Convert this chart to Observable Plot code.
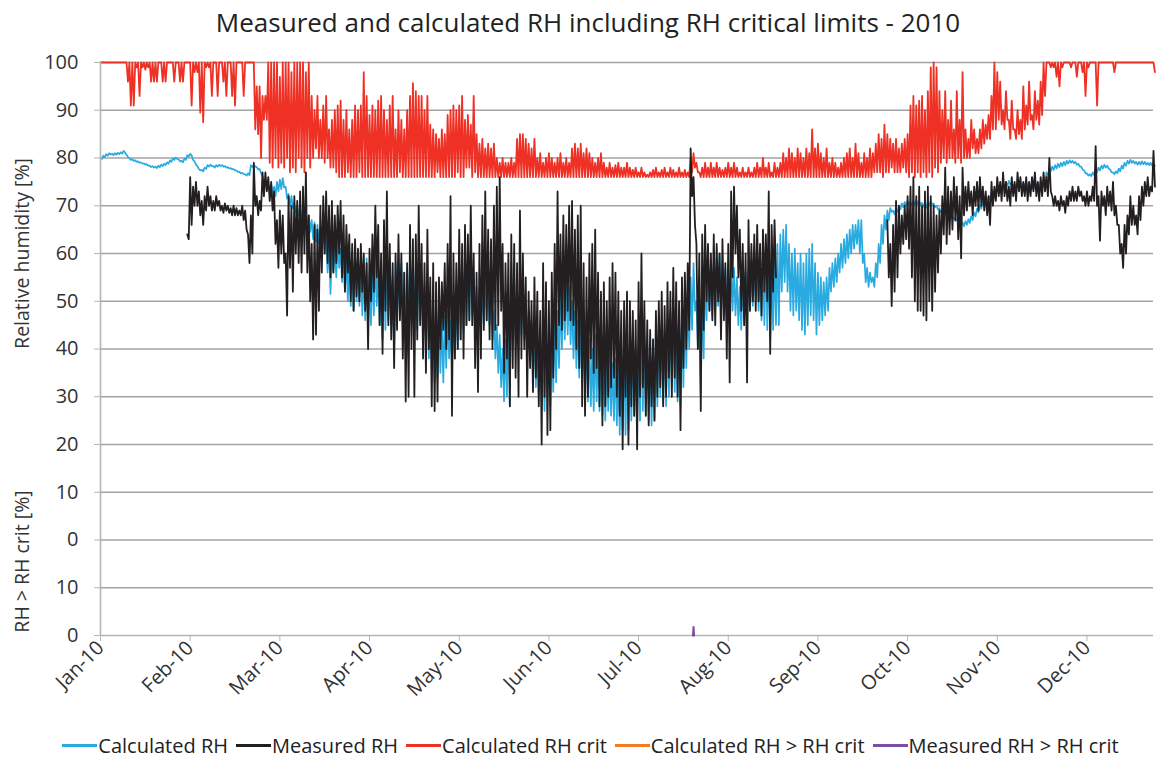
<!DOCTYPE html>
<html>
<head>
<meta charset="utf-8">
<script src="https://cdn.jsdelivr.net/npm/d3@7"></script>
<script src="https://cdn.jsdelivr.net/npm/@observablehq/plot@0.6"></script>
<style>
  html, body { margin: 0; padding: 0; background: #fff; }
  #page { width: 1159px; height: 761px; overflow: hidden; font-family: "Open Sans", sans-serif; color: #222; }
  #title { height: 42px; line-height: 44px; text-align: center; font-size: 26px; padding-left: 17px; box-sizing: border-box; white-space: nowrap; }
  #legend { height: 39px; padding-top: 4px; padding-left: 22px; display: flex; justify-content: center; align-items: center; font-size: 20px; white-space: nowrap; }
  .item { display: flex; align-items: center; margin: 0 4px; }
  .sw { display: inline-block; width: 35px; height: 3px; margin-right: 1px; }
</style>
</head>
<body>
<div id="page">
  <div id="title">Measured and calculated RH including RH critical limits - 2010</div>
  <div id="chart"></div>
  <div id="legend"></div>
</div>
<script>
// ---- Axis ticks (day of year 2010, 0 = 1 Jan) ----
const tickDays = [0, 31, 62, 93, 124, 155, 186, 217, 248, 279, 310, 341];
const monthLabels = ["Jan-10","Feb-10","Mar-10","Apr-10","May-10","Jun-10","Jul-10","Aug-10","Sep-10","Oct-10","Nov-10","Dec-10"];
const yTicks = [100, 90, 80, 70, 60, 50, 40, 30, 20, 10, 0, -10, -20];
const yTickLabels = ["100","90","80","70","60","50","40","30","20","10","0","10","0"];

// ---- Series: daily high / low readings (day 0..364) ----
const calcHi = [
 80.1,80.5,80.8,81.0,80.9,81.0,81.1,81.2,81.5,80.7,79.9,79.7,79.5,79.3,79.1,78.9,78.7,78.4,78.3,78.2,78.4,78.6,78.8,79.1,79.5,79.9,80.1,79.7,79.4,79.9,80.6,
 80.9,79.6,78.6,77.7,77.5,78.0,78.5,78.6,78.3,78.5,78.6,78.5,78.3,78.1,77.9,77.7,77.4,77.1,76.9,76.6,76.8,78.5,78.6,78.1,77.7,76.2,75.2,74.5,
 74.5,74,75,75.5,75.8,74,72.5,72,70.5,70,69.7,69.3,69,68,67,66.5,66,65.5,65,64,62,61,62,63,61,60,59,60,58,59,58,
 58,57,59,56,58,60,57,56,58,60,57,55,58,60,58,56,57,58,59,57,58,56,54,53,50,48,47,48,46,47,
 48,46,50,52,55,57,58,59,60,56,53,52,54,55,53,51,48,45,43,40,42,48,58,55,52,54,53,50,48,46,44,
 42,40,41,43,42,44,46,48,52,54,55,53,50,48,46,47,45,44,42,40,43,41,39,38,40,39,37,38,36,38,
 40,42,41,43,40,42,44,43,41,40,42,44,46,45,44,46,48,47,45,46,48,50,52,55,58,50,45,52,57,58,57,
 58,59,60,58,57,56,58,57,55,53,55,56,57,56,57,56,58,60,62,60,58,60,62,64,65,66,62,60,61,58,60,
 58,60,61,62,58,56,55,54,55,57,58,59,60,62,63,64,65,66,66,67,67,60,57,56,55,58,62,66,68,69,
 69.5,69,69.5,70,70.5,70.8,71,70.8,71,71.2,71,70.6,70.4,70.8,71,70.5,70,69.5,69,68.8,68.4,68,67.6,67.2,66.8,66.5,66.8,67.2,67.8,68.6,69.4,
 70.2,70.8,71.5,72,72.8,73.2,73.6,74,74.5,75,75.2,74.8,74.5,74.2,74.5,74.8,75,74.6,74.2,74.5,74.8,75,75.3,77,78,78.2,78.5,78.8,79,79.2,
 79.4,79.5,79.4,79.2,78.8,78.2,77.4,76.8,76.6,77,77.5,78,78.4,78.6,78.4,77.6,77,77.2,77.8,78.4,79,79.4,79.6,79.4,79.2,79.2,79.3,79.2,79,79,78.8
];
const calcLo = [
 79.8,80.2,80.5,80.7,80.6,80.7,80.8,80.9,81.1,80.2,79.6,79.4,79.2,79.0,78.8,78.6,78.4,78.1,78.0,77.9,78.1,78.3,78.5,78.8,79.2,79.6,79.8,79.3,79.1,79.6,80.3,
 80.5,79.3,78.3,77.4,77.2,77.7,78.2,78.3,78.0,78.2,78.3,78.2,78.0,77.8,77.6,77.4,77.1,76.8,76.6,76.3,76.4,78.1,78.2,77.6,76.8,74.8,73.6,73.0,
 72.5,72,73,73.5,73.8,71.5,70,69.5,68.5,68,67,66,65,64.5,63,62.5,62,61,60,56,51.5,56,55,57,54,52,50,49,48,50,49,
 47,46,44,45,47,49,45,42,44,46,44,40,45,47,46,43,45,48,47,44,46,42,40,38,36,33,34,35,33,36,
 38,36,38,40,42,44,45,46,47,44,42,44,45,46,45,42,38,35,32,29,30,28,40,42,40,43,42,40,38,34,32,
 30,28,27,30,28,31,33,36,40,42,43,41,38,36,34,33,31,29,28,27,29,27,26,25,27,26,25,24,22,23,
 22,23,25,26,24,25,27,26,25,24,25,28,30,29,28,30,32,31,29,28,32,36,40,44,48,40,30,38,46,48,47,
 48,49,50,48,47,46,48,47,45,44,46,47,48,49,50,48,46,45,44,42,44,45,45,52,54,52,48,47,48,46,44,
 43,45,47,46,43,45,46,47,48,52,53,54,56,57,58,59,60,61,62,60,58,54,53,54,53,55,58,62,65,67,
 68.7,68.2,68.7,69.2,69.7,70,70.2,70,70.2,70.4,70.2,69.8,69.6,70,70.2,69.7,69.2,68.7,68.2,68,67.6,67.2,66.8,66.4,66,65.7,66,66.4,67,67.8,68.6,
 69.4,70,70.7,71.2,72,72.4,72.8,73.2,73.7,74.2,74.4,74,73.7,73.4,73.7,74,74.2,73.8,73.4,73.7,74,74.2,74.5,76,77.2,77.5,77.8,78.1,78.3,78.5,
 78.8,79,78.9,78.6,78.2,77.6,76.8,76.3,76.2,76.4,77,77.4,77.8,78,77.8,77,76.6,76.8,77.2,77.8,78.4,78.8,79,78.8,78.6,78.6,78.7,78.6,78.5,78.4,78.4
];
const measHi = [
 null,null,null,null,null,null,null,null,null,null,null,null,null,null,null,null,null,null,null,null,null,null,null,null,null,null,null,null,null,null,64,
 76,74,75,73,71,72,74,72,71,72,71,70,70.5,70,69.5,70,69.5,69,70,69,64,68,79,72,71,77,77,76,
 75,73,67,69,68,60,72,70,72,71,73,74,77,68,62,66,65,70,72,73,70,71,68,70,71,68,66,64,62,63,61,
 62,60,58,61,64,70,66,60,67,73,62,58,60,64,60,56,58,66,63,64,70,62,58,65,55,58,54,55,54,58,
 62,72,60,58,65,62,66,64,70,60,56,62,68,73,65,63,70,74,76,62,58,60,64,62,58,69,60,55,52,50,55,
 52,48,58,54,50,56,62,73,64,68,66,70,71,65,68,70,58,55,60,62,65,56,52,54,50,55,58,56,52,48,
 50,52,50,48,46,54,60,50,46,44,42,48,50,52,49,54,52,57,54,50,55,56,58,82,76,62,60,64,66,62,60,
 64,62,60,63,58,62,73,74,70,65,62,60,67,62,64,66,62,65,64,73,66,67,null,null,null,null,null,null,null,null,null,
 null,null,null,null,null,null,null,null,null,null,null,null,null,null,null,null,null,null,null,null,null,null,null,null,null,null,null,null,null,67,
 62,66,71,70,68,70,72,74,76,72,74,70,73,74,72,70,68,69,72,78,74,73,76,74,72,78,74,75,73,74,75,
 76,74,73,72,75,74,76,75,77,75,74,76,75,77,76,75,76,75,76,77,75,76,77,76,80,72,72,71,72,71,
 72,73,74,73,74,73,72,73,72,74,82.5,72,73,72,74,73,75,70,66,62,66,68,72,70,68,72,74,75,76,74,81.5
];
const measLo = [
 null,null,null,null,null,null,null,null,null,null,null,null,null,null,null,null,null,null,null,null,null,null,null,null,null,null,null,null,null,null,63,
 66,70,70,68,66,69,70,69,69,70,69,68.5,69,68.5,68,68,68,68,67,65,58,60,70,68,69,72,73,71,
 69,62,57,60,58,47,57,52,60,58,56,60,56,50,42,43,48,56,60,58,55,56,58,60,55,52,56,50,48,51,50,
 52,48,40,50,52,55,45,39,48,45,42,36,44,46,38,29,30,40,30,42,45,38,35,40,28,27,29,40,44,40,
 42,26,38,40,42,38,45,46,45,36,31,38,44,46,42,40,44,45,48,35,38,28,36,34,30,38,40,30,36,31,34,
 28,20,30,22,23,34,40,45,44,46,48,46,45,40,36,28,26,30,38,35,36,28,24,28,30,32,34,30,26,19,
 30,20,28,26,19,30,32,26,24,28,25,30,32,28,30,34,30,34,30,23,36,40,44,72,66,40,27,44,50,48,46,
 45,50,42,46,38,33,55,60,55,48,45,33,48,50,48,50,47,52,50,39,52,55,null,null,null,null,null,null,null,null,null,
 null,null,null,null,null,null,null,null,null,null,null,null,null,null,null,null,null,null,null,null,null,null,null,null,null,null,null,null,null,55,
 49,52,55,60,62,63,61,55,50,48,48,47,46,50,48,52,56,60,64,62,64,65,67,63,59,68,69,70,68,70,69,
 70,69,68,66,70,71,72,71,72,71,70,72,71,73,72,72,71,72,73,72,71,72,73,72,73,70,70,69,70,68.5,
 70,71,71,71,72,71,70,70,71,71,70,62.7,70,68,70,69,68,66,60,57,60,64,66,66,64,67,70,72,72,73,74
];
const critHi = [
 100,100,100,100,100,100,100,100,100,100,100,100,100,100,100,100,100,100,100,100,100,100,100,100,100,100,100,100,100,100,100,
 100,100,100,100,100,100,100,100,100,100,100,100,100,100,100,100,100,100,100,100,100,100,100,95,95,93,93,100,
 100,100,100,97,100,100,100,98,100,100,100,100,98,100,93,90,93,88,91,93,86,88,90,91,92,88,90,86,88,91,90,
 91,98,93,89,91,90,92,93,90,88,91,93,86,90,88,86,90,93,95.7,94,93,93,90,93,87,86,85,84,86,85,
 89,90,91,90,91,93,88,89,87,93,85,83,84,82,83,82,83,80,79,80,79,79,80,79,84,85,85,84,83,82,84,
 80,81,79,80,81,80,79,80,81,79,80,79,82,83,82,83,81,82,81,80,79,80,81,79,78,79,78,78.5,79,78,
 78,79,78,77.5,78,77,78,77,76.5,77,77.5,78,77,77.5,78,77,78,77.5,77,78,77,77.5,77,80,81,79,77,78,79,78,79,
 78,79,78,77.5,78,79,78,79,78,77,78,77,78,77,78,79,78,80,78,79,77,79,78,79,81,80,82,81,80,82,81,
 80,82,81,86,82,83,81,80,82,79,80,79,78,79,80,81,82,80,83,81,79,81,80,82,81,83,85,84,87,85,
 84,83,84,82,83,84,85,91,93,91,92,93,90,94,99,100,99,94,90,94,88,92,86,94,88,98,86,84,88,86,84,
 86,88,87,89,93,100,98,96,90,94,88,92,86,90,88,95,91,96,89,94,92,96,100,100,100,100,100,100,100,100,
 100,100,100,100,100,100,100,100,100,100,100,100,100,100,100,100,100,100,100,100,100,100,100,100,100,100,100,100,100,100,100
];
const critLo = [
 100,100,100,100,100,100,100,100,100,96,91,91,99,93,99,98.5,99,96,96,96,100,96,96,100,100,96,100,96,96,100,100,
 91,98,98,89.5,87.5,99,99,93,100,93,100,96,93,100,93,91,100,100,93,100,100,100,86,85,80,88,88,79,
 78,80,78,79,78,80,77,78,77,80,78,77,80,78,80,82,80,80,79,80,78,78,77,76,76,76,77,76,76,76,77,
 76,76,76,76,76,76,76,76,76,76,76,76,76,77,76,76,76,76,76,76,76,76,76,76,76,76,77,76,76,76,
 76,76,76,77,76,76,78,78,76,77,76,76,76,76,76,76,76,76,76,76,76,76,76,76,76,76,76,76,76,76,76,
 76,76,76,76,76,76,76,76,76,76,76,76,76,76,76,76,76,76,76,76,76,76,76,76,76,76,76,76,76,76,
 76,76,76,76,76,76,76,76,76,76,76,76,76,76,76,76,76,76,76,76,76,76,76,77,78,77,76,76,76,76,76,
 76,76,76,76,76,76,76,76,76,76,76,76,76,76,76,76,76,76,76,76,76,76,76,76,76,76,76,76,76,76,76,
 76,76,76,76,76,76,76,76,76,76,76,76,76,76,76,76,76,76,76,76,76,76,76,76,77,77,77,76,77,77,
 78,77,77,77,78,77,76,77,76,77,76,77,76,77,76,78,77,79,80,79,80,80,79,80,79,80,80,80,82,81,81,
 82,83,84,84,86,86,88,87,86,88,84,86,84,85,84,86,87,88,86,88,87,89,93,100,99,99,97,95,99,100,
 100,99,100,97,100,98,93,99,100,100,91,100,100,100,100,100,98,100,100,100,100,100,100,100,100,100,100,100,100,100,98
];
// Exceedance (lower panel, % above RH crit)
const measExceedDay = [204.8, 205.0, 205.2];
const measExceedVal = [0, 1.8, 0];
const calcExceedDay = [];
const calcExceedVal = [];

const seriesNames = ["Calculated RH", "Measured RH", "Calculated RH crit", "Calculated RH > RH crit", "Measured RH > RH crit"];
const seriesColors = ["#29abe2", "#231f20", "#ee3124", "#f47b20", "#7b4ea3"];
const lowerPanelZero = -20; // lower panel 0 sits at -20 on the shared axis

const axisTitles = [
  {text: "Relative humidity [%]", at: 60},
  {text: "RH > RH crit [%]", at: -4.5}
];

// ---- build tables ----
function zigzag(hi, lo, name) {
  const out = [];
  hi.forEach((h, d) => {
    out.push({day: d, v: h, s: name});
    out.push({day: d + 0.5, v: lo[d], s: name});
  });
  return out;
}
const calcData = zigzag(calcHi, calcLo, seriesNames[0]);
const measData = zigzag(measHi, measLo, seriesNames[1]);
const critData = zigzag(critHi, critLo, seriesNames[2]);
const calcExData = calcExceedDay.map((d, i) => ({day: d, v: calcExceedVal[i] + lowerPanelZero}));
const measExData = measExceedDay.map((d, i) => ({day: d, v: measExceedVal[i] + lowerPanelZero}));

const grid = "#a3a3a3";
const axisGray = "#b5b5b5";
const chart = Plot.plot({
  width: 1159,
  height: 680,
  marginLeft: 100,
  marginRight: 6,
  marginTop: 20,
  marginBottom: 87,
  style: {fontFamily: "Open Sans, sans-serif", background: "#fff", color: "#333"},
  x: {domain: [0, 364]},
  y: {domain: [-20, 100]},
  marks: [
    Plot.gridY(yTicks.filter(t => t > -20), {stroke: grid, strokeOpacity: 1, strokeWidth: 1.4}),
    Plot.line(critData, {x: "day", y: "v", stroke: seriesColors[2], strokeWidth: 1.8}),
    Plot.line(calcData, {x: "day", y: "v", stroke: seriesColors[0], strokeWidth: 1.7}),
    Plot.line(measData, {x: "day", y: "v", stroke: seriesColors[1], strokeWidth: 1.8}),
    Plot.ruleX([0], {stroke: axisGray, strokeWidth: 1.6}),
    Plot.ruleY([-20], {stroke: axisGray, strokeWidth: 1.6}),
    Plot.line(calcExData, {x: "day", y: "v", stroke: seriesColors[3], strokeWidth: 2}),
    Plot.line(measExData, {x: "day", y: "v", stroke: seriesColors[4], strokeWidth: 2}),
    Plot.axisX(tickDays, {
      tickFormat: d => monthLabels[tickDays.indexOf(d)],
      tickRotate: -45, tickSize: 6, tickPadding: 3, fontSize: 20,
      stroke: axisGray, fill: "#333", label: null
    }),
    Plot.axisY(yTicks, {
      tickFormat: d => yTickLabels[yTicks.indexOf(d)],
      tickSize: 6, tickPadding: 16, fontSize: 20,
      stroke: axisGray, fill: "#333", label: null
    }),
    Plot.text(axisTitles, {
      y: "at", text: "text", frameAnchor: "left", textAnchor: "middle", dx: -78, rotate: -90,
      fontSize: 19.5, fill: "#333"
    })
  ]
});
document.getElementById("chart").appendChild(chart);

// ---- legend ----
const legend = document.getElementById("legend");
seriesNames.forEach((n, i) => {
  const item = document.createElement("span");
  item.className = "item";
  const sw = document.createElement("span");
  sw.className = "sw";
  sw.style.background = seriesColors[i];
  item.appendChild(sw);
  item.appendChild(document.createTextNode(n));
  legend.appendChild(item);
});
</script>
</body>
</html>
